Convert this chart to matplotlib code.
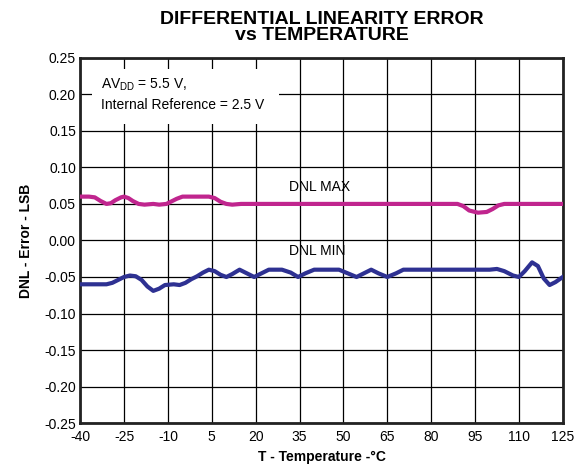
import matplotlib
matplotlib.use("Agg")
import matplotlib.pyplot as plt
import matplotlib.patches as mpatches

plt.rcParams['font.family'] = ['Liberation Sans', 'DejaVu Sans']
plt.rcParams['axes.unicode_minus'] = False

# values (temperature in degC, DNL in LSB)
max_temp = [-40, -37, -35, -33, -31, -29.5, -28, -26, -25, -23.5, -22, -20, -18, -15, -13,
            -10.5, -9, -7, -5, -2, 1, 4, 6, 8, 10, 12, 15, 30, 50, 70, 89, 91, 93, 96, 99,
            101, 103, 105, 115, 125]
dnl_max = [0.060, 0.060, 0.059, 0.054, 0.050, 0.051, 0.055, 0.059, 0.060, 0.058, 0.054, 0.050,
           0.049, 0.050, 0.049, 0.050, 0.053, 0.057, 0.060, 0.060, 0.060, 0.060, 0.058, 0.053,
           0.050, 0.049, 0.050, 0.050, 0.050, 0.050, 0.050, 0.047, 0.041, 0.038, 0.039, 0.043,
           0.048, 0.050, 0.050, 0.050]

min_temp = [-40, -35, -31, -29, -27, -25, -23, -21, -19, -17, -15, -13, -11, -8, -6, -4, -2,
            0, 2, 4, 6, 8, 10, 12, 14.5, 17, 19.5, 22, 24.5, 29, 32, 34.5, 37, 40, 45, 48.5,
            51.5, 54.5, 57, 59.5, 62, 65, 68, 70.5, 85, 100, 102.5, 105, 108, 110, 112, 114.5,
            116.5, 118.5, 120.5, 122.5, 125]
dnl_min = [-0.060, -0.060, -0.060, -0.058, -0.054, -0.050, -0.048, -0.049, -0.054, -0.063,
           -0.069, -0.066, -0.061, -0.060, -0.061, -0.058, -0.053, -0.049, -0.044, -0.040,
           -0.042, -0.047, -0.050, -0.046, -0.040, -0.045, -0.050, -0.045, -0.040, -0.040,
           -0.044, -0.050, -0.045, -0.040, -0.040, -0.040, -0.045, -0.050, -0.045, -0.040,
           -0.045, -0.050, -0.045, -0.040, -0.040, -0.040, -0.039, -0.042, -0.048, -0.050,
           -0.042, -0.030, -0.035, -0.052, -0.061, -0.057, -0.050]

xticks = list(range(-40, 126, 15))
yticks = [-0.25, -0.20, -0.15, -0.10, -0.05, 0.00, 0.05, 0.10, 0.15, 0.20, 0.25]

fig = plt.figure(figsize=(5.85, 4.66), dpi=100)
ax = fig.add_axes([0.137, 0.092, 0.825, 0.784])

ax.set_xlim(-40, 125)
ax.set_ylim(-0.25, 0.25)
ax.set_xticks(xticks)
ax.set_yticks(yticks)
ax.set_yticklabels([f"{v:.2f}" for v in yticks])
ax.tick_params(length=0, labelsize=10)
ax.tick_params(axis='x', pad=5)
ax.tick_params(axis='y', pad=3)
ax.grid(True, color='black', linewidth=0.9)
ax.set_axisbelow(True)
for s in ax.spines.values():
    s.set_linewidth(2)
    s.set_color('#222222')

# white box behind the conditions note
ax.add_patch(mpatches.Rectangle((-36, 0.16), 64, 0.075, facecolor='white',
                                edgecolor='none', zorder=1.5))
ax.text(-33, 0.213, r"AV$_{\mathregular{DD}}$ = 5.5 V,", fontsize=10, va='center', zorder=3)
ax.text(-33, 0.185, "Internal Reference = 2.5 V", fontsize=10, va='center', zorder=3)

ax.plot(max_temp, dnl_max, color='#C0258E', linewidth=3, zorder=4)
ax.plot(min_temp, dnl_min, color='#2E3192', linewidth=3, zorder=4)

ax.text(42, 0.073, "DNL MAX", fontsize=10, ha='center', va='center', zorder=3)
ax.text(41, -0.015, "DNL MIN", fontsize=10, ha='center', va='center', zorder=3)

ax.set_xlabel("T - Temperature -\u00b0C", fontsize=10, fontweight='bold', labelpad=4)
ax.set_ylabel("DNL - Error - LSB", fontsize=10, fontweight='bold', labelpad=8)
ax.set_title("DIFFERENTIAL LINEARITY ERROR\nvs TEMPERATURE", fontsize=14,
             fontweight='bold', linespacing=0.92, pad=13)

fig.savefig("out.png", dpi=100)
